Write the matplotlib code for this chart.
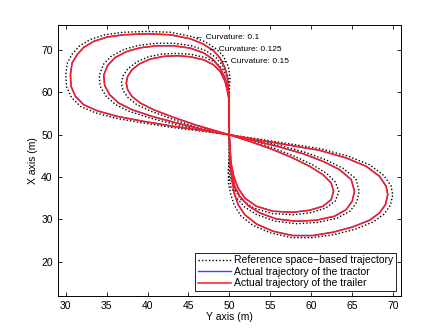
import matplotlib.pyplot as plt
import numpy as np

plt.rcParams['font.family'] = ['Liberation Sans', 'DejaVu Sans']

# curvature 0.1 (outer loop)
act1_x = [50, 50, 50, 49.90, 49.78, 49.49, 48.88, 48.07, 46.85, 45.22, 42.78, 39.93, 37.08, 35.04, 33.41, 32.19,
          31.38, 30.77, 30.57, 30.65, 31.18, 32.19, 33.82, 36.26, 39.52, 43.18, 46.85, 50,
          52.91, 56.98, 61.05, 64.31, 66.75, 68.38, 69.19, 69.39, 69.11, 68.38, 67.16, 65.12, 62.68, 60.24,
          57.79, 55.35, 53.32, 51.89, 51.08, 50.67, 50.39, 50.18, 50.06, 50]
act1_y = [50, 54, 58, 60.24, 63.39, 65.75, 68.11, 69.84, 71.41, 72.67, 73.61, 73.84, 73.61, 73.06, 72.04, 70.62,
          68.89, 66.93, 64.17, 61.42, 59.06, 57.10, 55.68, 54.35, 53.17, 51.99, 50.97, 50,
          49.00, 47.66, 46.33, 44.52, 42.55, 40.19, 37.84, 35.87, 33.51, 31.55, 29.82, 28.24, 26.99, 26.20,
          26.20, 27.22, 28.95, 31.15, 33.51, 35.87, 38.62, 41.77, 44.91, 50]
ref1_x = [50, 50, 50, 50.0, 50.1, 49.9, 49.3, 48.4, 47.1, 45.4, 42.8, 39.9, 37.0, 34.8, 33.0, 31.7,
          30.8, 30.2, 30.0, 30.1, 30.7, 31.8, 33.6, 36.1, 39.4, 43.1, 46.8, 50,
          52.95, 57.05, 61.2, 64.6, 67.2, 68.9, 69.8, 70.0, 69.7, 68.9, 67.6, 65.4, 62.8, 60.2,
          57.7, 55.1, 52.9, 51.4, 50.6, 50.2, 49.9, 49.9, 50.0, 50]
ref1_y = [50, 54, 58, 60.3, 63.5, 66.0, 68.5, 70.3, 71.9, 73.2, 74.2, 74.4, 74.2, 73.6, 72.5, 71.0,
          69.1, 67.0, 64.2, 61.3, 58.8, 56.7, 55.2, 53.9, 52.8, 51.7, 50.8, 50,
          49.2, 47.95, 46.7, 44.9, 42.9, 40.4, 37.9, 35.8, 33.3, 31.2, 29.4, 27.7, 26.4, 25.7,
          25.7, 26.8, 28.6, 30.9, 33.4, 35.8, 38.6, 41.8, 44.9, 50]

# curvature 0.125 (middle loop)
act2_x = [50, 50, 50, 49.78, 49.49, 48.88, 48.07, 46.85, 45.22, 43.18, 41.15, 39.11, 37.49, 36.06, 35.12, 34.64,
          34.76, 35.37, 36.47, 38.10, 40.54, 43.59, 46.85, 50,
          52.91, 56.17, 59.01, 61.46, 63.49, 64.92, 65.32, 65.04, 64.31, 62.88, 60.64, 58.20, 55.76, 53.72,
          52.30, 51.28, 50.67, 50.31, 50.10, 50]
act2_y = [50, 54, 58.28, 61.03, 63.39, 65.75, 67.71, 69.36, 70.46, 71.01, 71.01, 70.54, 69.68, 68.26, 66.38, 64.02,
          61.66, 59.46, 57.49, 55.92, 54.35, 52.78, 51.20, 50,
          48.68, 47.11, 45.54, 43.73, 41.77, 39.41, 36.66, 34.30, 32.33, 30.76, 29.82, 29.58, 30.13, 31.55,
          33.28, 35.48, 37.84, 40.98, 44.91, 50]
ref2_x = [50, 50, 50, 50.0, 49.9, 49.3, 48.4, 47.1, 45.4, 43.2, 41.1, 38.9, 37.2, 35.6, 34.6, 34.1,
          34.2, 34.9, 36.1, 37.8, 40.4, 43.5, 46.8, 50,
          53.0, 56.3, 59.2, 61.8, 63.9, 65.5, 65.9, 65.6, 64.8, 63.2, 60.8, 58.2, 55.6, 53.4,
          51.9, 50.8, 50.2, 49.9, 50.0, 50]
ref2_y = [50, 54, 58.28, 61.1, 63.6, 66.1, 68.2, 69.9, 71.0, 71.6, 71.6, 71.1, 70.2, 68.6, 66.6, 64.0,
          61.5, 59.2, 57.1, 55.5, 53.9, 52.4, 51.0, 50,
          48.9, 47.4, 45.9, 44.1, 42.1, 39.6, 36.6, 34.1, 32.0, 30.3, 29.3, 29.0, 29.6, 31.1,
          32.9, 35.3, 37.8, 41.0, 44.9, 50]

# curvature 0.15 (inner loop)
act3_x = [50, 50, 50, 49.78, 49.49, 48.88, 48.07, 46.85, 45.22, 43.59, 41.96, 40.33, 39.03, 38.10, 37.57, 37.40,
          37.57, 38.10, 39.11, 40.74, 43.18, 46.03, 50,
          52.50, 55.35, 57.79, 59.83, 61.46, 62.47, 62.76, 62.47, 61.46, 59.83, 57.79, 55.35, 53.32, 51.89,
          51.08, 50.55, 50.22, 50]
act3_y = [50, 54, 57.88, 60.24, 62.60, 64.96, 66.53, 67.71, 68.42, 68.66, 68.50, 67.87, 66.77, 65.35, 63.78, 62.21,
          60.64, 59.06, 57.49, 55.92, 54.11, 52.23, 50,
          48.45, 46.48, 44.52, 42.55, 40.59, 38.62, 36.66, 34.69, 33.12, 32.17, 31.70, 31.94, 33.12, 35.08,
          37.44, 40.19, 43.34, 50]
ref3_x = [50, 50, 50, 50.0, 49.9, 49.3, 48.4, 47.1, 45.3, 43.6, 41.9, 40.1, 38.7, 37.6, 37.0, 36.8,
          37.0, 37.6, 38.7, 40.5, 43.0, 45.9, 50,
          52.6, 55.5, 58.0, 60.2, 61.9, 63.0, 63.4, 63.0, 61.8, 60.0, 57.8, 55.2, 53.0, 51.4,
          50.6, 50.1, 50.0, 50]
ref3_y = [50, 54, 57.88, 60.3, 62.8, 65.3, 67.0, 68.2, 69.0, 69.2, 69.1, 68.4, 67.2, 65.6, 63.9, 62.2,
          60.5, 58.8, 57.1, 55.5, 53.7, 51.9, 50,
          48.7, 46.8, 44.9, 42.9, 40.9, 38.8, 36.6, 34.4, 32.7, 31.6, 31.1, 31.4, 32.7, 34.8,
          37.3, 40.2, 43.3, 50]

refs = [(ref1_x, ref1_y), (ref2_x, ref2_y), (ref3_x, ref3_y)]
acts = [(act1_x, act1_y), (act2_x, act2_y), (act3_x, act3_y)]

notes = ['\u2190 Curvature: 0.1', '\u2190 Curvature: 0.125', '\u2190 Curvature: 0.15']
note_x = [45.75, 47.4, 48.85]
note_y = [72.9, 70.1, 67.2]

fig = plt.figure(figsize=(4.43, 3.33), dpi=100)
ax = fig.add_axes([0.13, 0.112, 0.775, 0.814])

for i in range(3):
    rx, ry = refs[i]
    ax.plot(rx, ry, color='k', lw=1.0, linestyle=(0, (1.0, 1.5)),
            label='Reference space\u2212based trajectory' if i == 0 else None)
for i in range(3):
    x, y = acts[i]
    ax.plot(x, y, '-', color='#3050ff', lw=1.0, solid_joinstyle='round',
            label='Actual trajectory of the tractor' if i == 0 else None)
for i in range(3):
    x, y = acts[i]
    ax.plot(x, y, '-', color='#ff1a1a', lw=1.1, solid_joinstyle='round',
            label='Actual trajectory of the trailer' if i == 0 else None)

for t, x, y in zip(notes, note_x, note_y):
    ax.text(x, y, t, fontsize=6, va='center', ha='left')

ax.set_xlim(29, 71)
ax.set_ylim(12, 76)
ax.set_xticks(np.arange(30, 71, 5))
ax.set_yticks(np.arange(20, 71, 10))
ax.tick_params(direction='in', top=True, right=True, labelsize=7.5, length=3, width=0.6)
for s in ax.spines.values():
    s.set_linewidth(0.7)
ax.set_xlabel('Y axis (m)', fontsize=7.5, labelpad=1)
ax.set_ylabel('X axis (m)', fontsize=7.5, labelpad=2)

leg = ax.legend(loc='lower right', fontsize=7.5, fancybox=False, framealpha=1, edgecolor='k',
                handlelength=3.2, handletextpad=0.3, labelspacing=0.15, borderpad=0.25, borderaxespad=0.45)
leg.get_frame().set_linewidth(0.6)

fig.savefig('out.png', dpi=100)
